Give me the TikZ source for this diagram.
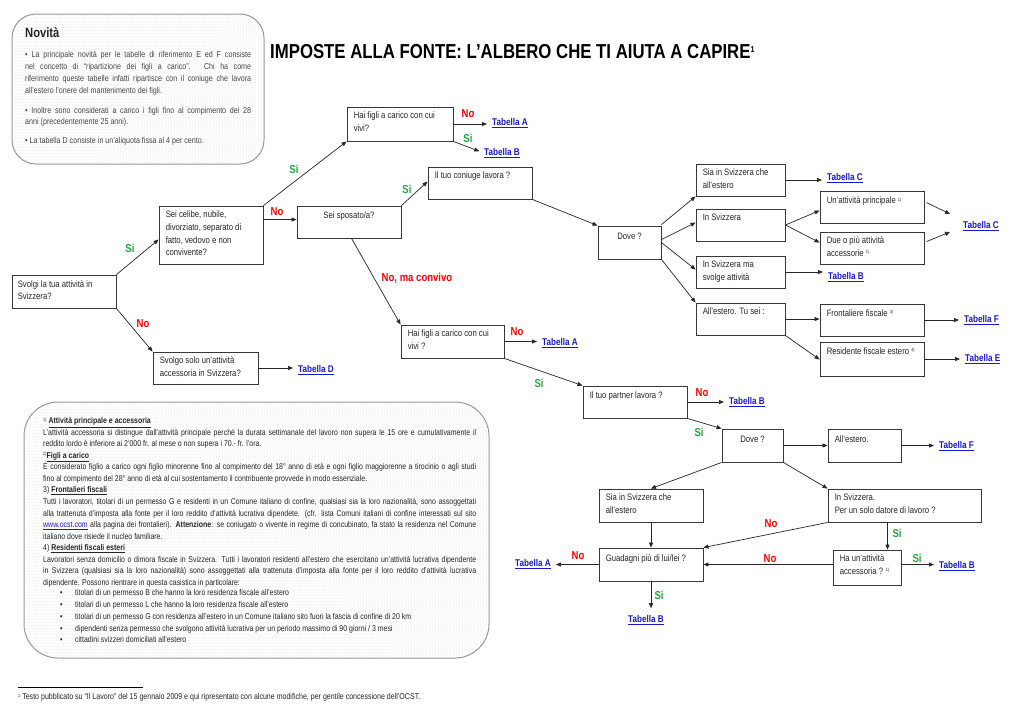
\documentclass[tikz,border=0pt]{standalone}
\usepackage{fontspec}
\setmainfont{Liberation Sans}[FakeStretch=0.83]
\usetikzlibrary{arrows.meta,fit,patterns,shadows,calc}
\definecolor{lnk}{HTML}{1A1AC8}
\definecolor{rd}{HTML}{FF0000}
\definecolor{gr}{HTML}{1BA83A}
\definecolor{txt}{HTML}{262626}
\newcommand\sps[1]{\raisebox{2.6pt}{\fontsize{4.6}{5}\selectfont #1}}
\newcommand\jl[1]{\makebox[433pt][s]{#1}}
\newcommand\jn[1]{\makebox[226pt][s]{#1}}
\tikzset{
  box/.style={draw=black!78, line width=0.9pt, fill=white, inner sep=0pt,
    drop shadow={shadow xshift=0.9pt, shadow yshift=-0.9pt, fill=black!55, opacity=1}},
  btxt/.style={anchor=north west, inner sep=0pt, align=left, text=txt, font=\fontsize{9.3}{12.6}\selectfont},
  ctxt/.style={anchor=north, inner sep=0pt, align=center, text=txt, font=\fontsize{9.3}{12.6}\selectfont},
  arr/.style={-{Triangle[length=5pt,width=4pt]}, line width=0.7pt, draw=black!85},
  tarr/.style={arr, shorten >=5pt},
  lab/.style={inner sep=0pt, font=\bfseries\fontsize{11.5}{12}\selectfont},
  si/.style={lab, text=gr},
  no/.style={lab, text=rd},
  tab/.style={anchor=base west, inner sep=0pt, text=lnk, font=\bfseries\fontsize{9.8}{11}\selectfont},
  notebox/.style={draw=black!40, line width=1pt, inner sep=0pt, preaction={fill=white}, pattern=dots, pattern color=black!18},
  ntxt/.style={anchor=mid west, inner sep=0pt, text=black!72, font=\fontsize{8.6}{9}\selectfont},
  ftxt/.style={anchor=mid west, inner sep=0pt, text=txt, font=\fontsize{8.4}{9}\selectfont},
}
\begin{document}
\begin{tikzpicture}[x=1pt,y=-1pt]
\path[use as bounding box, fill=white] (0,0) rectangle (1024,724);

% ---------- Novità box ----------
\node[notebox, rounded corners=24pt, fit={(12,14) (264,164)}] (novbox) {};
\node[anchor=base west, inner sep=0pt, text=black!85, font=\bfseries\fontsize{13.5}{14}\selectfont] (novh) at (25,37.5) {Novità};
\node[ntxt] (n1) at (25,55) {\jn{• La principale novità per le tabelle di riferimento E ed F consiste}};
\node[ntxt] (n2) at (25,67) {\jn{nel concetto di “ripartizione dei figli a carico”. Chi ha come}};
\node[ntxt] (n3) at (25,79) {\jn{riferimento queste tabelle infatti ripartisce con il coniuge che lavora}};
\node[ntxt] (n4) at (25,91) {all’estero l’onere del mantenimento dei figli.};
\node[ntxt] (n5) at (25,110.5) {\jn{• Inoltre sono considerati a carico i figli fino al compimento dei 28}};
\node[ntxt] (n6) at (25,122) {anni (precedentemente 25 anni).};
\node[ntxt] (n7) at (25,141) {• La tabella D consiste in un’aliquota fissa al 4 per cento.};

% ---------- Title ----------
\node[anchor=base west, inner sep=0pt, font=\bfseries\fontsize{20.2}{24}\selectfont] (title) at (270,58.5)
  {IMPOSTE ALLA FONTE: L’ALBERO CHE TI AIUTA A CAPIRE\raisebox{6pt}{\fontsize{8.5}{9}\selectfont 1}};

% ---------- Boxes ----------
\node[box, fit={(12,275) (116,308)}] (svolgi) {};
\node[btxt] (svolgit) at ([shift={(6,5.5)}]svolgi.north west) {Svolgi la tua attività in\\Svizzera?};
\node[box, fit={(159,206) (263,264)}] (celibe) {};
\node[btxt] (celibet) at ([shift={(7,5.5)}]celibe.north west) {Sei celibe, nubile,\\divorziato, separato di\\fatto, vedovo e non\\convivente?};
\node[box, fit={(297,206) (401,238)}] (sposato) {};
\node[ctxt] (sposatot) at ([shift={(0,6)}]sposato.north) {Sei sposato/a?};
\node[box, fit={(347,107) (453,141)}] (hai1) {};
\node[btxt] (hai1t) at ([shift={(7,5.5)}]hai1.north west) {Hai figli a carico con cui\\vivi?};
\node[box, fit={(428,167) (532,199)}] (coniuge) {};
\node[btxt] (coniuget) at ([shift={(7,5.5)}]coniuge.north west) {Il tuo coniuge lavora ?};
\node[box, fit={(598,226) (661,259)}] (dove1) {};
\node[ctxt] (dove1t) at ([shift={(0,7)}]dove1.north) {Dove ?};
\node[box, fit={(696,164) (785,196)}] (sia1) {};
\node[btxt] (sia1t) at ([shift={(7,5)}]sia1.north west) {Sia in Svizzera che\\all’estero};
\node[box, fit={(696,209) (785,241)}] (svz1) {};
\node[btxt] (svz1t) at ([shift={(7,5)}]svz1.north west) {In Svizzera};
\node[box, fit={(696,256) (785,288)}] (svzma) {};
\node[btxt] (svzmat) at ([shift={(7,5)}]svzma.north west) {In Svizzera ma\\svolge attività};
\node[box, fit={(696,303) (785,335)}] (est1) {};
\node[btxt] (est1t) at ([shift={(7,5)}]est1.north west) {All’estero. Tu sei :};
\node[box, fit={(820,191) (924,223)}] (princ) {};
\node[btxt] (princt) at ([shift={(7,6)}]princ.north west) {Un’attività principale \sps{1)}};
\node[box, fit={(820,232) (924,264)}] (due) {};
\node[btxt] (duet) at ([shift={(7,5)}]due.north west) {Due o più attività\\accessorie \sps{1)}};
\node[box, fit={(820,304) (924,336)}] (front) {};
\node[btxt] (frontt) at ([shift={(7,6)}]front.north west) {Frontaliere fiscale \sps{3)}};
\node[box, fit={(820,342) (924,376)}] (resid) {};
\node[btxt] (residt) at ([shift={(7,6)}]resid.north west) {Residente fiscale estero \sps{4)}};
\node[box, fit={(153,352) (258,384)}] (svolgo) {};
\node[btxt] (svolgot) at ([shift={(7,5)}]svolgo.north west) {Svolgo solo un’attività\\accessoria in Svizzera?};
\node[box, fit={(401,325) (504,358)}] (hai2) {};
\node[btxt] (hai2t) at ([shift={(7,5.5)}]hai2.north west) {Hai figli a carico con cui\\vivi ?};
\node[box, fit={(583,386) (687,418)}] (partner) {};
\node[btxt] (partnert) at ([shift={(7,6)}]partner.north west) {Il tuo partner lavora ?};
\node[box, fit={(722,429) (783,462)}] (dove2) {};
\node[ctxt] (dove2t) at ([shift={(0,7)}]dove2.north) {Dove ?};
\node[box, fit={(828,429) (901,462)}] (est2) {};
\node[btxt] (est2t) at ([shift={(7,7)}]est2.north west) {All’estero.};
\node[box, fit={(599,489) (703,522)}] (sia2) {};
\node[btxt] (sia2t) at ([shift={(7,5)}]sia2.north west) {Sia in Svizzera che\\all’estero};
\node[box, fit={(828,489) (981,522)}] (svz2) {};
\node[btxt] (svz2t) at ([shift={(7,5)}]svz2.north west) {In Svizzera.\\Per un solo datore di lavoro ?};
\node[box, fit={(599,548) (703,581)}] (guad) {};
\node[btxt] (guadt) at ([shift={(7,7)}]guad.north west) {Guadagni più di lui/lei ?};
\node[box, fit={(833,550) (901,585)}] (ha) {};
\node[btxt] (hat) at ([shift={(7,5)}]ha.north west) {Ha un’attività\\accessoria ? \sps{1)}};

% ---------- Tabella labels ----------
\node[tab] (tabA1) at (492,125.5) {\underline{Tabella A}};
\node[tab] (tabB1) at (484,155.5) {\underline{Tabella B}};
\node[tab] (tabD)  at (298,372.5) {\underline{Tabella D}};
\node[tab] (tabA2) at (542,345.5) {\underline{Tabella A}};
\node[tab] (tabC1) at (827,180.5) {\underline{Tabella C}};
\node[tab] (tabC2) at (963,228.5) {\underline{Tabella C}};
\node[tab] (tabB2) at (828,279.5) {\underline{Tabella B}};
\node[tab] (tabF1) at (964,322.5) {\underline{Tabella F}};
\node[tab] (tabE)  at (965,361.5) {\underline{Tabella E}};
\node[tab] (tabB3) at (729,404.5) {\underline{Tabella B}};
\node[tab] (tabF2) at (939,448.5) {\underline{Tabella F}};
\node[tab] (tabB4) at (939,568.5) {\underline{Tabella B}};
\node[tab] (tabA3) at (515,566.5) {\underline{Tabella A}};
\node[tab] (tabB5) at (628,622.5) {\underline{Tabella B}};

% ---------- Connectors ----------
\coordinate (haR) at ($(ha.north east)+(0,15)$);
\draw[arr] (svolgi.north east) -- ($(celibe.north west)+(0,34)$);
\draw[arr] (svolgi.south east) -- (svolgo.north west);
\draw[tarr] (svolgo.east) -- (svolgo.east -| tabD.west);
\draw[arr] (celibe.north east) -- (hai1.south west);
\draw[arr] ($(celibe.north east)+(0,14)$) -- ($(sposato.north west)+(0,14)$);
\draw[tarr] (hai1.east) -- (hai1.east -| tabA1.west);
\draw[tarr] (hai1.south east) -- (tabB1.west);
\draw[arr] (sposato.north east) -- ($(coniuge.north west)+(0,15)$);
\draw[arr] ($(sposato.south west)+(55,0)$) -- (hai2.north west);
\draw[tarr] (hai2.east) -- (hai2.east -| tabA2.west);
\draw[arr] (hai2.south east) -- (partner.north west);
\draw[arr] (coniuge.south east) -- (dove1.north west);
\draw[arr] ($(dove1.north east)+(0,-1)$) -- (sia1.south west);
\draw[arr] ($(dove1.north east)+(0,14)$) -- ($(svz1.north west)+(0,14)$);
\draw[arr] ($(dove1.north east)+(0,17)$) -- ($(svzma.north west)+(0,14)$);
\draw[arr] (dove1.south east) -- (est1.north west);
\draw[tarr] (sia1.east) -- (sia1.east -| tabC1.west);
\draw[arr] (svz1.east) -- ($(princ.north west)+(0,20)$);
\draw[arr] (svz1.east) -- ($(due.north west)+(0,11)$);
\draw[arr] ($(princ.north east)+(2,12)$) -- ($(tabC2.west)+(-13,-12)$);
\draw[arr] ($(due.north east)+(2,10)$) -- ($(tabC2.west)+(-13,6)$);
\draw[tarr] (svzma.east) -- (svzma.east -| tabB2.west);
\draw[arr] (est1.east) -- (est1.east -| front.west);
\draw[arr] (est1.south east) -- ($(resid.north west)+(0,18)$);
\draw[tarr] (front.east) -- (front.east -| tabF1.west);
\draw[tarr] (resid.east) -- (resid.east -| tabE.west);
\draw[tarr] (partner.east) -- (partner.east -| tabB3.west);
\draw[arr] (partner.south east) -- (dove2.north west);
\draw[arr] (dove2.east) -- (dove2.east -| est2.west);
\draw[tarr] (est2.east) -- (est2.east -| tabF2.west);
\draw[arr] (dove2.south west) -- (sia2.north);
\draw[arr] (dove2.south east) -- (svz2.north west);
\draw[arr] (sia2.south) -- (sia2.south |- guad.north);
\draw[arr] (svz2.south west) -- (guad.north east);
\draw[arr] ($(svz2.south west)+(60,0)$) -- ($(ha.north west)+(55,0)$);
\draw[arr] (ha.west |- guad.east) -- (guad.east);
\draw[tarr] (haR) -- (haR -| tabB4.west);
\draw[tarr] (guad.west) -- (guad.west -| tabA3.east);
\draw[arr, shorten >=7pt] (guad.south) -- (guad.south |- tabB5.north);

% ---------- Si / No labels ----------
\node[si] (l1) at (130,248) {Si};
\node[no] (l2) at (143,324) {No};
\node[si] (l3) at (294,169) {Si};
\node[no] (l4) at (277,212) {No};
\node[si] (l5) at (407,189) {Si};
\node[no] (l6) at (468,114) {No};
\node[si] (l7) at (468,138) {Si};
\node[no] (l8) at (417,278) {No, ma convivo};
\node[no] (l9) at (517,332) {No};
\node[si] (l10) at (539,383) {Si};
\node[no] (l11) at (702,393) {No};
\node[si] (l12) at (699,432) {Si};
\node[no] (l13) at (771,524) {No};
\node[si] (l14) at (897,533) {Si};
\node[no] (l15) at (770,559) {No};
\node[si] (l16) at (917,558) {Si};
\node[no] (l17) at (578,556) {No};
\node[si] (l18) at (659,595) {Si};

% ---------- Footnote box ----------
\node[notebox, rounded corners=34pt, fit={(24,402) (489,658)}] (fbox) {};
\node[ftxt] (f1) at (43,421) {\sps{1)} \textbf{\underline{Attività principale e accessoria}}};
\node[ftxt] (f2) at (43,432.6) {\jl{L’attività accessoria si distingue dall’attività principale perché la durata settimanale del lavoro non supera le 15 ore e cumulativamente il}};
\node[ftxt] (f3) at (43,444.1) {reddito lordo è inferiore ai 2’000 fr. al mese o non supera i 70.- fr. l’ora.};
\node[ftxt] (f4) at (43,455.7) {\sps{2)}\textbf{\underline{Figli a carico}}};
\node[ftxt] (f5) at (43,467.2) {\jl{È considerato figlio a carico ogni figlio minorenne fino al compimento del 18° anno di età e ogni figlio maggiorenne a tirocinio o agli studi}};
\node[ftxt] (f6) at (43,478.8) {fino al compimento del 28° anno di età al cui sostentamento il contribuente provvede in modo essenziale.};
\node[ftxt] (f7) at (43,490.3) {3) \textbf{\underline{Frontalieri fiscali}}};
\node[ftxt] (f8) at (43,501.9) {\jl{Tutti i lavoratori, titolari di un permesso G e residenti in un Comune italiano di confine, qualsiasi sia la loro nazionalità, sono assoggettati}};
\node[ftxt] (f9) at (43,513.4) {\jl{alla trattenuta d’imposta alla fonte per il loro reddito d’attività lucrativa dipendete. (cfr. lista Comuni italiani di confine interessati sul sito}};
\node[ftxt] (f10) at (43,525) {\jl{\textcolor{lnk}{\underline{www.ocst.com}} alla pagina dei frontalieri). \textbf{Attenzione}: se coniugato o vivente in regime di concubinato, fa stato la residenza nel Comune}};
\node[ftxt] (f11) at (43,536.5) {italiano dove risiede il nucleo familiare.};
\node[ftxt] (f12) at (43,548.1) {4) \textbf{\underline{Residenti fiscali esteri}}};
\node[ftxt] (f13) at (43,559.6) {\jl{Lavoratori senza domicilio o dimora fiscale in Svizzera. Tutti i lavoratori residenti all’estero che esercitano un’attività lucrativa dipendente}};
\node[ftxt] (f14) at (43,571.2) {\jl{in Svizzera (qualsiasi sia la loro nazionalità) sono assoggettati alla trattenuta d’imposta alla fonte per il loro reddito d’attività lucrativa}};
\node[ftxt] (f15) at (43,582.7) {dipendente. Possono rientrare in questa casistica in particolare:};
\node[ftxt] (f16) at (60,593) {\makebox[15pt][l]{•}titolari di un permesso B che hanno la loro residenza fiscale all’estero};
\node[ftxt] (f17) at (60,604.8) {\makebox[15pt][l]{•}titolari di un permesso L che hanno la loro residenza fiscale all’estero};
\node[ftxt] (f18) at (60,616.6) {\makebox[15pt][l]{•}titolari di un permesso G con residenza all’estero in un Comune italiano sito fuori la fascia di confine di 20 km};
\node[ftxt] (f19) at (60,628.4) {\makebox[15pt][l]{•}dipendenti senza permesso che svolgono attività lucrativa per un periodo massimo di 90 giorni / 3 mesi};
\node[ftxt] (f20) at (60,640.2) {\makebox[15pt][l]{•}cittadini svizzeri domiciliati all’estero};

% ---------- Page footnote ----------
\draw[line width=0.6pt] (18,687) -- (143,687);
\node[ftxt, font=\fontsize{8.5}{9}\selectfont] (pf) at (18,697) {\sps{1} Testo pubblicato su “Il Lavoro” del 15 gennaio 2009 e qui ripresentato con alcune modifiche, per gentile concessione dell’OCST.};
\end{tikzpicture}
\end{document}
